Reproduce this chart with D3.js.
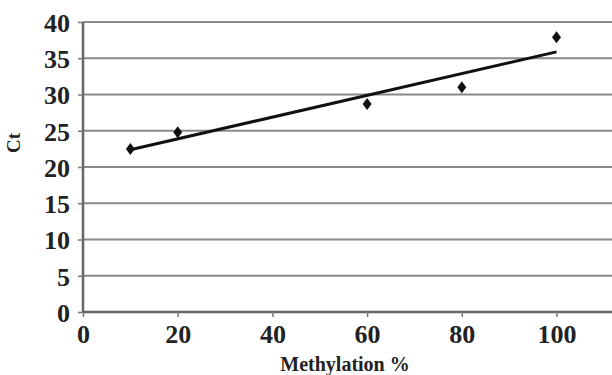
<!DOCTYPE html>
<html>
<head>
<meta charset="utf-8">
<script src="https://cdn.jsdelivr.net/npm/d3@7"></script>
<style>
  body { margin: 0; background: #fff; }
  svg text { font-family: "Liberation Serif", "DejaVu Serif", serif; font-weight: bold; fill: #222; }
</style>
</head>
<body>
<div id="chart"></div>
<script>
// methylation % vs Ct values
var methylation = [10, 20, 60, 80, 100];
var ctValues = [22.5, 24.8, 28.7, 31.0, 37.9];
var xTicks = [0, 20, 40, 60, 80, 100];
var yTicks = [0, 5, 10, 15, 20, 25, 30, 35, 40];

var width = 612, height = 375;
var margin = {top: 22, left: 83, bottom: 63};

var svg = d3.select("#chart").append("svg")
    .attr("width", width)
    .attr("height", height);

// x axis runs on past the right edge (to 120), the picture is cropped there
var x = d3.scaleLinear().domain([0, 120]).range([margin.left, margin.left + 120 * 4.735]);
var y = d3.scaleLinear().domain([0, 40]).range([height - margin.bottom, margin.top]);

// gridlines
svg.append("g")
    .selectAll("line")
    .data(yTicks.filter(function(d) { return d > 0; }))
    .enter().append("line")
    .attr("x1", x(0)).attr("x2", width)
    .attr("y1", function(d) { return y(d); })
    .attr("y2", function(d) { return y(d); })
    .attr("stroke", "#8a8a8a")
    .attr("stroke-width", 2);

var yAxis = svg.append("g")
    .attr("transform", "translate(" + x(0) + ",0)")
    .call(d3.axisLeft(y).tickValues(yTicks).tickSize(5).tickPadding(8));

var xAxis = svg.append("g")
    .attr("transform", "translate(0," + y(0) + ")")
    .call(d3.axisBottom(x).tickValues(xTicks).tickSize(5).tickPadding(6));

[yAxis, xAxis].forEach(function(ax) {
    ax.select(".domain").attr("stroke", "#666").attr("stroke-width", 2.5);
    ax.selectAll(".tick line").attr("stroke", "#777").attr("stroke-width", 1.5);
    ax.selectAll("text").attr("font-size", 26).attr("fill", "#222");
});
xAxis.select(".domain").attr("d", "M" + x(0) + ",0H" + width);
yAxis.select(".domain").attr("d", "M0," + y(0) + "V" + y(40));
yAxis.selectAll("text").attr("dy", "0.36em");
xAxis.selectAll("text").attr("dy", "0.78em");

// linear trendline
var mx = d3.mean(methylation), my = d3.mean(ctValues);
var sxy = d3.sum(methylation, function(d, i) { return (d - mx) * (ctValues[i] - my); });
var sxx = d3.sum(methylation, function(d) { return (d - mx) * (d - mx); });
var slope = sxy / sxx, intercept = my - slope * mx;
var ends = d3.extent(methylation);

svg.append("line")
    .attr("x1", x(ends[0])).attr("y1", y(intercept + slope * ends[0]))
    .attr("x2", x(ends[1])).attr("y2", y(intercept + slope * ends[1]))
    .attr("stroke", "#111")
    .attr("stroke-width", 3);

// diamond markers
svg.append("g")
    .selectAll("path")
    .data(methylation)
    .enter().append("path")
    .attr("transform", function(d, i) { return "translate(" + x(d) + "," + y(ctValues[i]) + ")"; })
    .attr("d", "M0,-6L4.5,0L0,6L-4.5,0Z")
    .attr("fill", "#111");

svg.append("text")
    .attr("x", 345).attr("y", 371)
    .attr("text-anchor", "middle")
    .attr("font-size", 20)
    .text("Methylation %");

svg.append("text")
    .attr("transform", "translate(20,143) rotate(-90)")
    .attr("text-anchor", "middle")
    .attr("font-size", 19)
    .text("Ct");
</script>
</body>
</html>
